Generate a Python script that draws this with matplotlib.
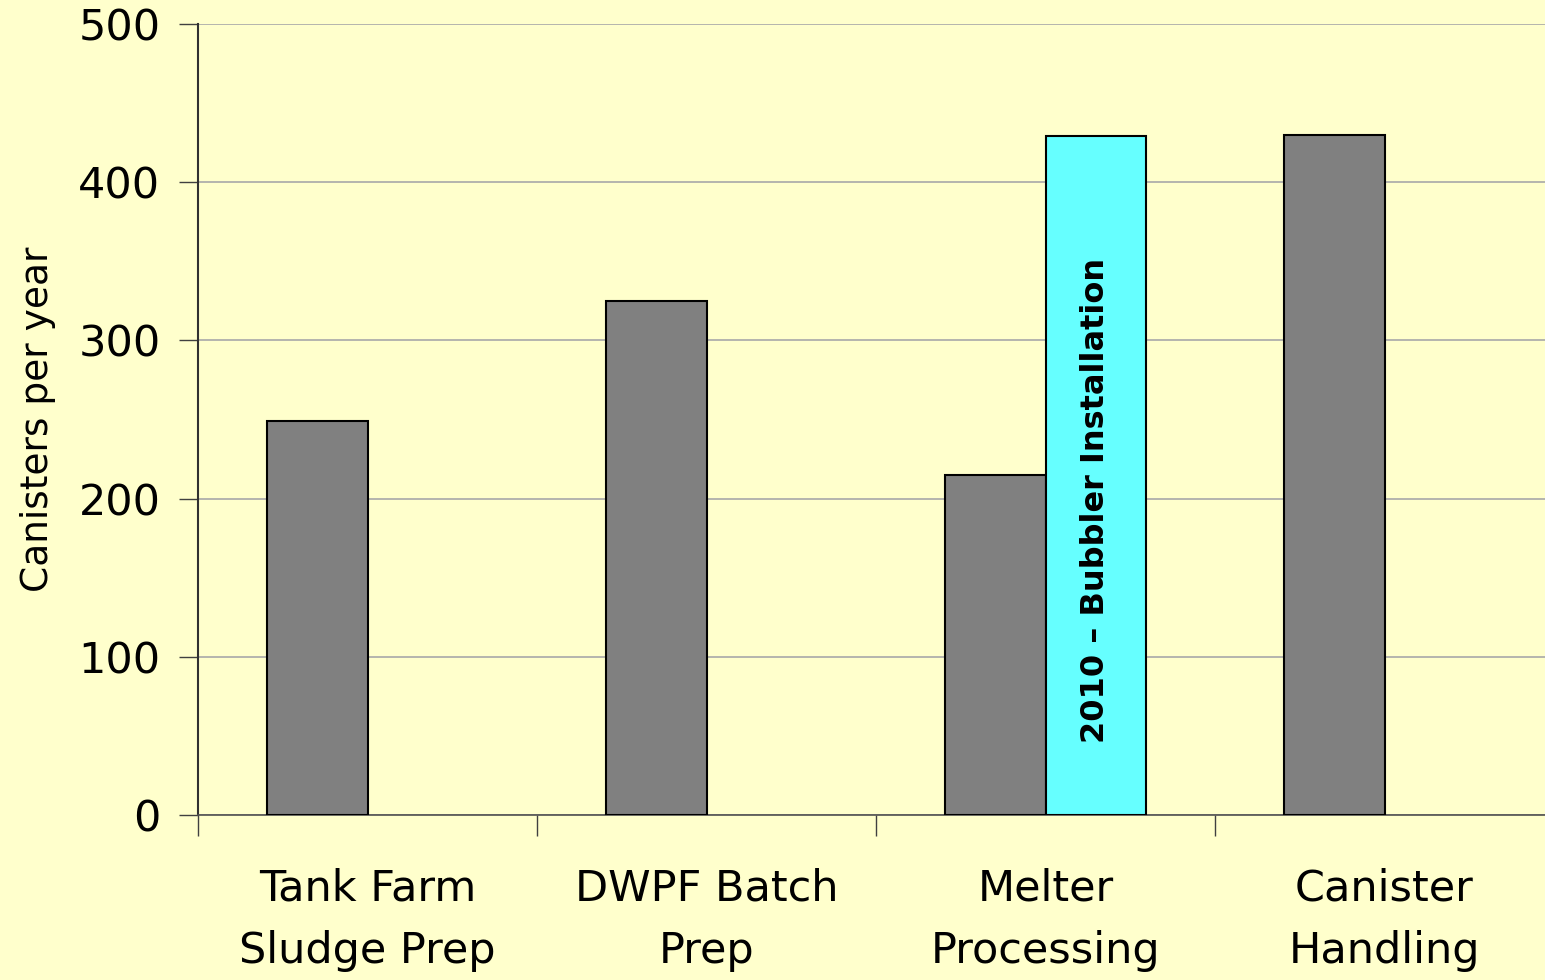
import numpy as np
import matplotlib
matplotlib.use('Agg')
import matplotlib.pyplot as plt

# data
categories = ['Tank Farm\nSludge Prep', 'DWPF Batch\nPrep', 'Melter\nProcessing', 'Canister\nHandling']
current = [249, 325, 215, 430]
upgrade = [0, 0, 429, 0]
note = '2010 \u2013 Bubbler Installation'

bg = '#FFFFCC'
plt.rcParams['font.family'] = ['DejaVu Sans']

fig = plt.figure(figsize=(15.45, 9.8), dpi=100, facecolor=bg)
ax = fig.add_axes([198 / 1545, 1 - 815 / 980, 1356 / 1545, 791 / 980])
ax.set_facecolor(bg)

x = np.arange(len(categories)) + 0.5
w = 0.295
ax.bar(x - w / 2, current, w, color='#808080', edgecolor='black', linewidth=1.5, zorder=3)
ax.bar(x + w / 2, upgrade, w, color='#66FFFF', edgecolor='black', linewidth=1.5, zorder=3)
# hide the empty second-series bars
for p in ax.patches[len(current):]:
    if p.get_height() == 0:
        p.set_visible(False)

i = upgrade.index(max(upgrade))
ax.text(x[i] + w / 2, 199, note, rotation=90, ha='center', va='center',
        fontsize=23, fontweight='bold', zorder=4)

ax.set_xlim(0, 4)
ax.set_ylim(0, 500)
ax.set_yticks(np.arange(0, 501, 100))
ax.set_xticks(np.arange(0, 5))
ax.set_xticklabels([])
ax.set_xticks(x, minor=True)
ax.set_xticklabels(categories, minor=True, fontsize=31, linespacing=1.6)
ax.tick_params(axis='x', which='minor', length=0, pad=38)
ax.tick_params(axis='x', which='major', length=15, width=1, color='#404040', direction='out')
ax.tick_params(axis='y', length=14, width=1, color='#404040', labelsize=31, pad=13)

ax.grid(axis='y', color='#A8A8A8', linewidth=1.2, zorder=0)
for s in ['top', 'right']:
    ax.spines[s].set_visible(False)
ax.spines['left'].set_color('#303030')
ax.spines['left'].set_linewidth(1.5)
ax.spines['bottom'].set_color('#505050')
ax.spines['bottom'].set_linewidth(1.2)

ax.set_ylabel('Canisters per year', fontsize=27, labelpad=16)

fig.savefig('out.png', dpi=100, facecolor=bg)
